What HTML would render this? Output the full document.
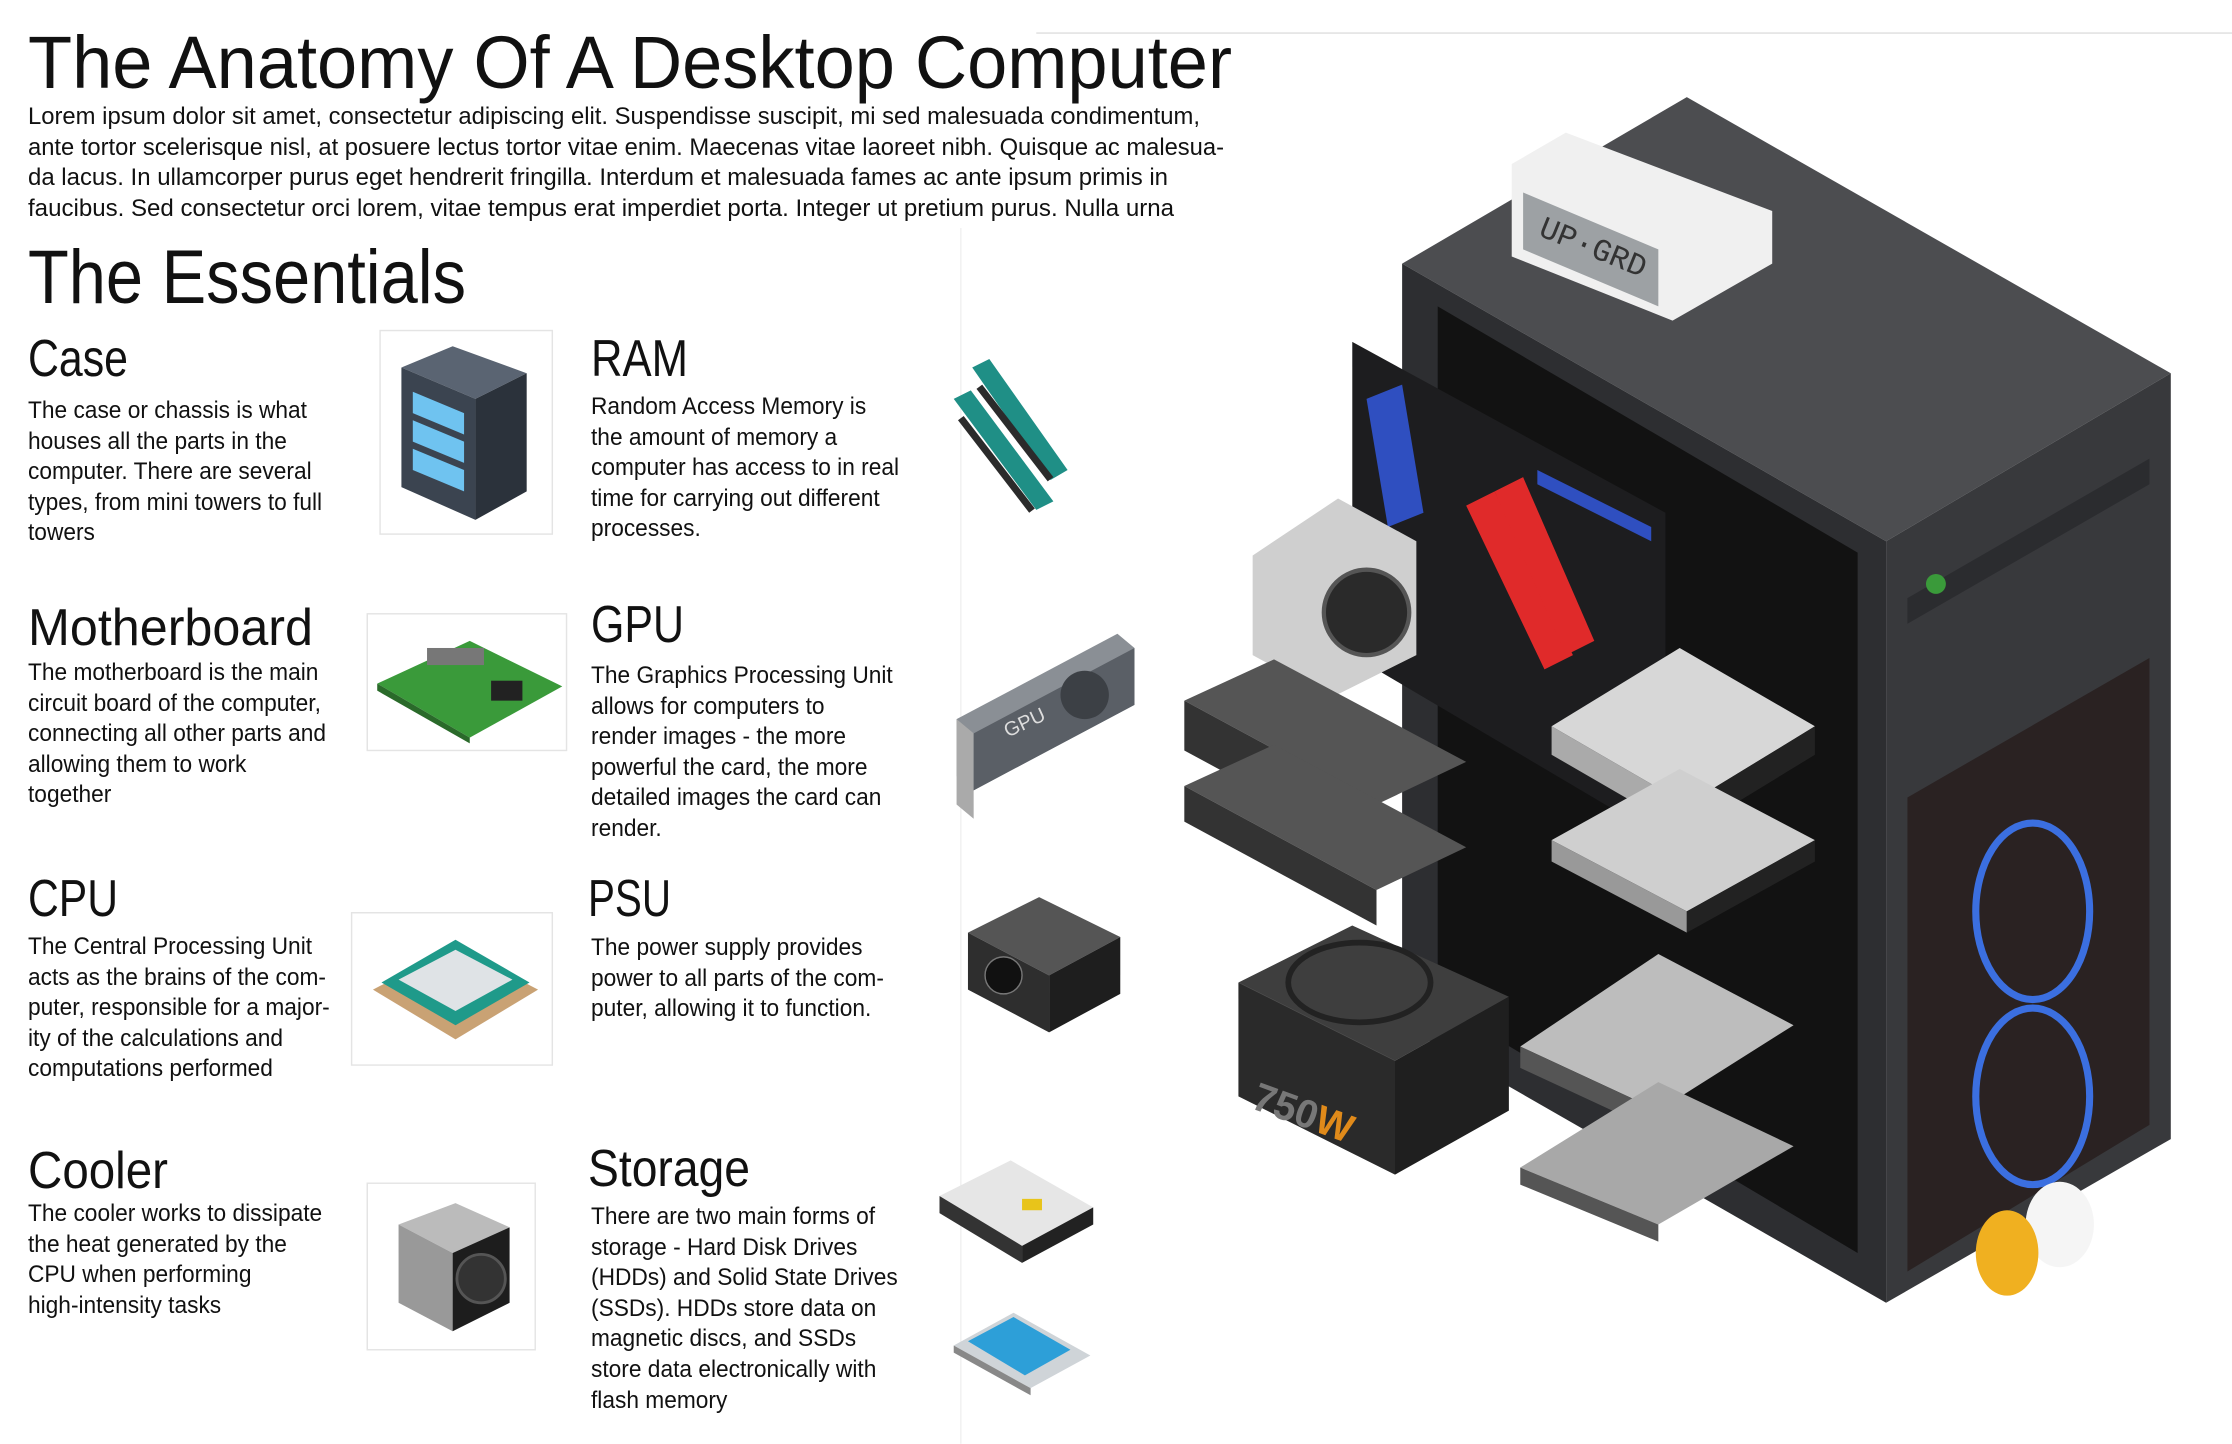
<!DOCTYPE html>
<html><head><meta charset="utf-8">
<style>
html,body{margin:0;padding:0;background:#fff;}
body{width:2232px;height:1444px;position:relative;overflow:hidden;font-family:"Liberation Sans",sans-serif;color:#111;}
.t{position:absolute;white-space:nowrap;transform-origin:left top;}
.h1{font-size:74px;line-height:74px;}
.p{font-size:24px;line-height:30.6px;}
.h2{font-size:76px;line-height:76px;}
.h3{font-size:52px;line-height:52px;}
.b{font-size:24px;line-height:30.6px;}
svg{position:absolute;left:0;top:0;}
</style></head>
<body>
<svg width="2232" height="1444" viewBox="0 0 1568 1014">
 <line x1="728" y1="23" x2="1568" y2="23" stroke="#ddd" stroke-width="1"/>
 <line x1="675" y1="160" x2="675" y2="1014" stroke="#f0f0f0" stroke-width="1"/>
 <g>
  <rect x="267" y="232" width="121" height="143" fill="#fff" stroke="#e4e4e4"/>
  <polygon points="282,258 318,243 370,262 334,280" fill="#5a6472"/>
  <polygon points="282,258 334,280 334,365 282,342" fill="#3b4450"/>
  <polygon points="334,280 370,262 370,345 334,365" fill="#2b323b"/>
  <polygon points="290,275 326,290 326,305 290,290" fill="#6fc3f0"/>
  <polygon points="290,295 326,310 326,325 290,310" fill="#6fc3f0"/>
  <polygon points="290,315 326,330 326,345 290,330" fill="#6fc3f0"/>
 </g>
 <g>
  <rect x="258" y="431" width="140" height="96" fill="#fff" stroke="#e4e4e4"/>
  <polygon points="265,480 330,450 395,482 330,518" fill="#3a9a3a"/>
  <polygon points="265,480 330,518 330,522 265,485" fill="#2a6a2a"/>
  <rect x="300" y="455" width="40" height="12" fill="#777"/>
  <rect x="345" y="478" width="22" height="14" fill="#222"/>
 </g>
 <g>
  <rect x="247" y="641" width="141" height="107" fill="#fff" stroke="#e4e4e4"/>
  <polygon points="262,695 320,665 378,695 320,730" fill="#c9a274"/>
  <polygon points="268,690 320,660 372,690 320,720" fill="#1f9a8a"/>
  <polygon points="280,688 320,667 360,688 320,710" fill="#dfe3e6"/>
 </g>
 <g>
  <rect x="258" y="831" width="118" height="117" fill="#fff" stroke="#e4e4e4"/>
  <polygon points="280,860 320,845 358,862 318,880" fill="#bbb"/>
  <polygon points="280,860 318,880 318,935 280,915" fill="#999"/>
  <polygon points="318,880 358,862 358,915 318,935" fill="#1d1d1d"/>
  <circle cx="338" cy="898" r="17" fill="#333" stroke="#555" stroke-width="2"/>
 </g>
 <g>
  <polygon points="683,258 695,252 750,330 738,337" fill="#1f8f86"/>
  <polygon points="670,280 682,274 740,352 728,358" fill="#1f8f86"/>
  <polygon points="690,270 740,335 736,338 686,273" fill="#2b2b2b"/>
  <polygon points="677,292 727,357 723,360 673,295" fill="#2b2b2b"/>
 </g>
 <g>
  <polygon points="672,505 785,445 797,455 797,495 684,555 672,545" fill="#8a8f95"/>
  <polygon points="672,505 684,515 684,575 672,565" fill="#aaa"/>
  <polygon points="684,515 797,455 797,495 684,555" fill="#5a5f66"/>
  <text x="708" y="518" font-family="Liberation Sans" font-size="14" fill="#ddd" transform="rotate(-25 708 518)">GPU</text>
  <circle cx="762" cy="488" r="17" fill="#3c4045"/>
 </g>
 <g>
  <polygon points="680,655 730,630 787,658 737,685" fill="#555"/>
  <polygon points="680,655 737,685 737,725 680,695" fill="#2e2e2e"/>
  <polygon points="737,685 787,658 787,698 737,725" fill="#1e1e1e"/>
  <circle cx="705" cy="685" r="13" fill="#111" stroke="#777"/>
 </g>
 <g>
  <polygon points="660,840 710,815 768,848 718,875" fill="#e6e6e6"/>
  <polygon points="660,840 718,875 718,887 660,852" fill="#333"/>
  <polygon points="718,875 768,848 768,860 718,887" fill="#222"/>
  <rect x="718" y="842" width="14" height="8" fill="#e8c41a"/>
 </g>
 <g>
  <polygon points="670,945 712,922 766,952 724,975" fill="#cfd4d8"/>
  <polygon points="680,942 712,925 752,948 720,966" fill="#2d9fd8"/>
  <polygon points="670,945 724,975 724,980 670,950" fill="#888"/>
 </g>
 <g>
  <polygon points="985,185 1185,68 1525,262 1325,380" fill="#4c4d50"/>
  <polygon points="1325,380 1525,262 1525,800 1325,915" fill="#38393c"/>
  <polygon points="1340,560 1510,462 1510,790 1340,893" fill="#2a2222"/>
  <ellipse cx="1428" cy="640" rx="40" ry="62" fill="none" stroke="#3b6fe0" stroke-width="5"/>
  <ellipse cx="1428" cy="770" rx="40" ry="62" fill="none" stroke="#3b6fe0" stroke-width="5"/>
  <polygon points="1340,420 1510,322 1510,340 1340,438" fill="#2b2c2f"/>
  <circle cx="1360" cy="410" r="7" fill="#3a9a3a"/>
  <polygon points="985,185 1325,380 1325,915 985,720" fill="#2d2e31"/>
  <polygon points="1010,215 1305,388 1305,880 1010,705" fill="#121212"/>
  <polygon points="950,240 1170,360 1170,590 950,460" fill="#1d1d1f"/>
  <polygon points="1030,355 1050,345 1105,460 1085,470" fill="#e02a2a"/>
  <polygon points="1050,345 1070,335 1120,450 1100,460" fill="#e02a2a"/>
  <polygon points="960,280 985,270 1000,360 975,370" fill="#2f4fc0"/>
  <polygon points="1080,330 1160,370 1160,380 1080,340" fill="#2f4fc0"/>
  <polygon points="880,390 940,350 995,380 995,460 935,490 880,460" fill="#cfcfcf"/>
  <circle cx="960" cy="430" r="30" fill="#2a2a2a" stroke="#555" stroke-width="3"/>
  <polygon points="832,492 895,463 1030,535 967,565" fill="#555"/>
  <polygon points="832,492 967,565 967,600 832,527" fill="#333"/>
  <polygon points="832,552 895,523 1030,595 967,625" fill="#555"/>
  <polygon points="832,552 967,625 967,650 832,577" fill="#333"/>
  <polygon points="870,690 950,650 1060,700 980,745" fill="#3e3e3e"/>
  <polygon points="870,690 980,745 980,825 870,770" fill="#2a2a2a"/>
  <polygon points="980,745 1060,700 1060,780 980,825" fill="#1f1f1f"/>
  <ellipse cx="955" cy="690" rx="50" ry="28" fill="none" stroke="#222" stroke-width="4"/>
  <text x="878" y="778" font-family="Liberation Sans" font-weight="bold" font-size="28" fill="#777" transform="rotate(20 878 778)">750<tspan fill="#e08a1a">W</tspan></text>
  <polygon points="1090,510 1180,455 1275,510 1185,565" fill="#d7d7d7"/>
  <polygon points="1090,510 1185,565 1185,585 1090,530" fill="#aaa"/>
  <polygon points="1185,565 1275,510 1275,530 1185,585" fill="#222"/>
  <polygon points="1090,590 1180,540 1275,590 1185,640" fill="#cfcfcf"/>
  <polygon points="1090,590 1185,640 1185,655 1090,605" fill="#999"/>
  <polygon points="1185,640 1275,590 1275,605 1185,655" fill="#222"/>
  <polygon points="1068,735 1165,670 1260,720 1165,780" fill="#bdbdbd"/>
  <polygon points="1068,735 1165,780 1165,795 1068,750" fill="#555"/>
  <polygon points="1068,820 1165,760 1260,805 1165,860" fill="#a8a8a8"/>
  <polygon points="1068,820 1165,860 1165,872 1068,832" fill="#555"/>
  <polygon points="1062,115 1100,93 1245,148 1245,185 1175,225 1062,180" fill="#f0f0f0"/>
  <polygon points="1070,135 1165,175 1165,215 1070,175" fill="#9da1a4"/>
  <text x="1080" y="165" font-family="Liberation Mono" font-size="22" fill="#333" transform="rotate(22 1080 165)">UP·GRD</text>
  <ellipse cx="1447" cy="860" rx="24" ry="30" fill="#f5f5f5"/>
  <ellipse cx="1410" cy="880" rx="22" ry="30" fill="#f0b020"/>
 </g>
</svg>

<div class="t h1 fit" data-w="1204" style="left:28px;top:26px;">The Anatomy Of A Desktop Computer</div>
<div class="t p fit" data-w="1172" style="left:28px;top:102px;">Lorem ipsum dolor sit amet, consectetur adipiscing elit. Suspendisse suscipit, mi sed malesuada condimentum,</div>
<div class="t p fit" data-w="1196" style="left:28px;top:133px;">ante tortor scelerisque nisl, at posuere lectus tortor vitae enim. Maecenas vitae laoreet nibh. Quisque ac malesua-</div>
<div class="t p fit" data-w="1140" style="left:28px;top:163px;">da lacus. In ullamcorper purus eget hendrerit fringilla. Interdum et malesuada fames ac ante ipsum primis in</div>
<div class="t p fit" data-w="1146" style="left:28px;top:194px;">faucibus. Sed consectetur orci lorem, vitae tempus erat imperdiet porta. Integer ut pretium purus. Nulla urna</div>
<div class="t h2 fit" data-w="438" style="left:28px;top:240px;">The Essentials</div>

<div class="t h3 fit" data-w="100" style="left:28px;top:333px;">Case</div>
<div class="t b body" style="left:28px;top:396px;"><span class="ref">The case or chassis is what</span><br>houses all the parts in the<br>computer. There are several<br>types, from mini towers to full<br>towers</div>

<div class="t h3 fit" data-w="285" style="left:28px;top:602px;">Motherboard</div>
<div class="t b body" style="left:28px;top:658px;">The motherboard is the main<br>circuit board of the computer,<br>connecting all other parts and<br>allowing them to work<br>together</div>

<div class="t h3 fit" data-w="90" style="left:28px;top:873px;">CPU</div>
<div class="t b body" style="left:28px;top:932px;">The Central Processing Unit<br>acts as the brains of the com-<br>puter, responsible for a major-<br>ity of the calculations and<br>computations performed</div>

<div class="t h3 fit" data-w="140" style="left:28px;top:1145px;">Cooler</div>
<div class="t b body" style="left:28px;top:1199px;">The cooler works to dissipate<br>the heat generated by the<br>CPU when performing<br>high-intensity tasks</div>

<div class="t h3 fit" data-w="97" style="left:591px;top:333px;">RAM</div>
<div class="t b body" style="left:591px;top:392px;">Random Access Memory is<br>the amount of memory a<br>computer has access to in real<br>time for carrying out different<br>processes.</div>

<div class="t h3 fit" data-w="93" style="left:591px;top:599px;">GPU</div>
<div class="t b body" style="left:591px;top:661px;">The Graphics Processing Unit<br>allows for computers to<br>render images - the more<br>powerful the card, the more<br>detailed images the card can<br>render.</div>

<div class="t h3 fit" data-w="83" style="left:588px;top:873px;">PSU</div>
<div class="t b body" style="left:591px;top:933px;">The power supply provides<br>power to all parts of the com-<br>puter, allowing it to function.</div>

<div class="t h3 fit" data-w="162" style="left:588px;top:1143px;">Storage</div>
<div class="t b body" style="left:591px;top:1202px;">There are two main forms of<br>storage - Hard Disk Drives<br>(HDDs) and Solid State Drives<br>(SSDs). HDDs store data on<br>magnetic discs, and SSDs<br>store data electronically with<br>flash memory</div>

<script>
document.querySelectorAll('.fit').forEach(function(el){
  var w = el.getBoundingClientRect().width;
  var t = parseFloat(el.getAttribute('data-w'));
  if (w > 0) el.style.transform = 'scaleX(' + (t / w) + ')';
});
var ref = document.querySelector('.ref');
var s = 279 / ref.getBoundingClientRect().width;
document.querySelectorAll('.body').forEach(function(el){
  el.style.transform = 'scaleX(' + s + ')';
});
</script>
</body></html>
